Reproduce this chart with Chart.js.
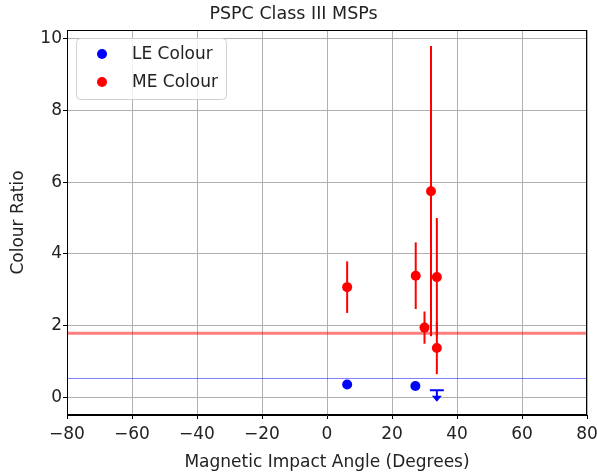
<!DOCTYPE html>
<html>
<head>
<meta charset="utf-8">
<script src="https://cdn.jsdelivr.net/npm/chart.js@4"></script>
<style>
  html, body { margin: 0; padding: 0; background: #fff; }
</style>
</head>
<body>
<canvas id="chart" width="597" height="473"></canvas>
<script>
// data
var leX = [6.2, 27.2];
var leY = [0.35, 0.31];

var meX   = [6.2, 27.3, 32.0, 33.8, 30.0, 33.8];
var meY   = [3.07, 3.39, 5.75, 3.35, 1.94, 1.37];
var meErr = [0.72, 0.93, 4.05, 1.65, 0.45, 0.73];

// upper limit (blue, arrow down)
var ulX   = [33.8];
var ulY   = [0.19];
var ulLen = [0.32];

var meMean = 1.78;
var leMean = 0.52;

var xTicks = [-80, -60, -40, -20, 0, 20, 40, 60, 80];
var yTicks = [0, 2, 4, 6, 8, 10];

function pts(xs, ys) {
  return xs.map(function(x, i){ return { x: x, y: ys[i] }; });
}

Chart.defaults.font.family = "'DejaVu Sans', sans-serif";
Chart.defaults.color = '#222';

var extras = {
  id: 'extras',
  beforeDatasetsDraw: function(chart) {
    var ctx = chart.ctx, xs = chart.scales.x, ys = chart.scales.y;
    ctx.save();
    // error bars
    ctx.strokeStyle = '#ff0000';
    ctx.lineWidth = 2;
    meX.forEach(function(x, i){
      var px = xs.getPixelForValue(x);
      ctx.beginPath();
      ctx.moveTo(px, ys.getPixelForValue(meY[i] - meErr[i]));
      ctx.lineTo(px, ys.getPixelForValue(meY[i] + meErr[i]));
      ctx.stroke();
    });
    // upper limit
    ctx.strokeStyle = '#0000ff';
    ctx.fillStyle = '#0000ff';
    ulX.forEach(function(x, i){
      var px = xs.getPixelForValue(x);
      var top = ys.getPixelForValue(ulY[i]);
      var bot = ys.getPixelForValue(ulY[i] - ulLen[i]);
      ctx.lineWidth = 2;
      ctx.beginPath();
      ctx.moveTo(px - 7, top); ctx.lineTo(px + 7, top);
      ctx.moveTo(px, top); ctx.lineTo(px, bot - 4);
      ctx.stroke();
      ctx.beginPath();
      ctx.moveTo(px - 5, bot - 6);
      ctx.lineTo(px + 5, bot - 6);
      ctx.lineTo(px, bot);
      ctx.closePath();
      ctx.fill();
    });
    ctx.restore();
  },
  afterDraw: function(chart) {
    var ctx = chart.ctx, a = chart.chartArea;
    ctx.save();
    // frame
    ctx.strokeStyle = '#000';
    ctx.lineWidth = 1;
    ctx.strokeRect(a.left + 0.5, a.top + 0.5, a.right - a.left - 1, a.bottom - a.top - 1);

    // legend box
    var lx = a.left + 9, ly = a.top + 8, lw = 150, lh = 61;
    ctx.fillStyle = 'rgba(255,255,255,0.8)';
    ctx.strokeStyle = '#d0d0d0';
    ctx.beginPath();
    ctx.roundRect(lx + 0.5, ly + 0.5, lw, lh, 4);
    ctx.fill();
    ctx.stroke();
    var items = [chart.data.datasets[0], chart.data.datasets[1]];
    ctx.font = "17px 'DejaVu Sans'";
    ctx.textBaseline = 'middle';
    items.forEach(function(ds, i){
      var cy = ly + 16 + i * 28;
      ctx.fillStyle = ds.backgroundColor;
      ctx.beginPath();
      ctx.arc(lx + 26, cy, 5, 0, Math.PI * 2);
      ctx.fill();
      ctx.fillStyle = '#222';
      ctx.fillText(ds.label, lx + 56, cy + 1);
    });
    ctx.restore();
  }
};

new Chart(document.getElementById('chart'), {
  type: 'scatter',
  data: {
    datasets: [
      {
        label: 'LE Colour',
        data: pts(leX, leY),
        backgroundColor: '#0000ff',
        borderWidth: 0,
        pointRadius: 5,
        order: 1
      },
      {
        label: 'ME Colour',
        data: pts(meX, meY),
        backgroundColor: '#ff0000',
        borderWidth: 0,
        pointRadius: 5,
        order: 1
      },
      {
        type: 'line',
        label: 'ME mean',
        data: [{ x: -80, y: meMean }, { x: 80, y: meMean }],
        borderColor: 'rgba(255,0,0,0.5)',
        borderWidth: 3,
        pointRadius: 0,
        order: 2
      },
      {
        type: 'line',
        label: 'LE mean',
        data: [{ x: -80, y: leMean }, { x: 80, y: leMean }],
        borderColor: 'rgba(0,0,255,0.5)',
        borderWidth: 1,
        pointRadius: 0,
        order: 2
      }
    ]
  },
  options: {
    responsive: false,
    animation: false,
    layout: { padding: { left: 0, right: 10, top: 0, bottom: 0 } },
    plugins: {
      legend: { display: false },
      tooltip: { enabled: false },
      title: {
        display: true,
        text: 'PSPC Class III MSPs',
        color: '#222',
        font: { size: 17.5, weight: 'normal' },
        padding: { top: 4, bottom: 5 }
      }
    },
    scales: {
      x: {
        type: 'linear',
        min: -80, max: 80,
        afterBuildTicks: function(s){ s.ticks = xTicks.map(function(v){ return { value: v }; }); },
        afterFit: function(s){ s.height = 58; s.paddingLeft = 0; s.paddingRight = 0; },
        ticks: {
          color: '#222',
          font: { size: 17 },
          padding: 5,
          maxRotation: 0,
          callback: function(v){ return String(v).replace('-', '\u2212'); }
        },
        grid: { color: '#b0b0b0', tickColor: '#000', tickLength: 4 },
        border: { color: '#000' },
        title: {
          display: true,
          text: 'Magnetic Impact Angle (Degrees)',
          color: '#222',
          font: { size: 17 },
          padding: { top: 1, bottom: 0 }
        }
      },
      y: {
        type: 'linear',
        min: -0.5, max: 10.25,
        afterBuildTicks: function(s){ s.ticks = yTicks.map(function(v){ return { value: v }; }); },
        afterFit: function(s){ s.width = 67; s.paddingTop = 0; s.paddingBottom = 0; },
        ticks: {
          color: '#222',
          font: { size: 17 },
          padding: 1,
          callback: function(v){ return String(v).replace('-', '\u2212'); }
        },
        grid: { color: '#b0b0b0', tickColor: '#000', tickLength: 4 },
        border: { color: '#000' },
        title: {
          display: true,
          text: 'Colour Ratio',
          color: '#222',
          font: { size: 17 },
          padding: { top: 8, bottom: 0 }
        }
      }
    }
  },
  plugins: [extras]
});
</script>
</body>
</html>
